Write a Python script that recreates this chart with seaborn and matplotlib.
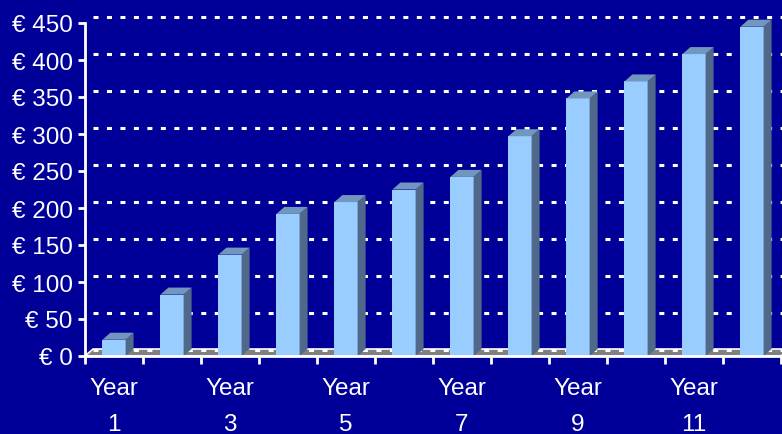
import matplotlib
matplotlib.use("Agg")
import matplotlib.pyplot as plt
import seaborn as sns
import pandas as pd
from matplotlib.patches import Polygon
from matplotlib.transforms import ScaledTranslation
from matplotlib.ticker import FixedLocator

# ---- data ----
years = [str(i) for i in range(1, 13)]
values = [22, 83, 137, 192, 208, 225, 242, 297, 348, 371, 408, 445]
y_ticks = [0, 50, 100, 150, 200, 250, 300, 350, 400, 450]
y_tick_labels = [f"€ {v}" for v in y_ticks]
x_label_years = ["1", "3", "5", "7", "9", "11"]

# ---- style ----
BG = "#000099"
FRONT = "#99CCFF"
SIDE = "#50698B"
TOP = "#7297BF"
FLOOR = "#808080"
W = 782
H = 435
DPI = 100

sns.set_theme(style="white")
plt.rcParams["font.family"] = ["Liberation Sans", "DejaVu Sans"]
plt.rcParams["lines.scale_dashes"] = False

fig = plt.figure(figsize=(W / DPI, H / DPI), dpi=DPI, facecolor=BG)
ax_left, ax_right, ax_bottom, ax_top = 85, 781, 357, 24
ax = fig.add_axes([ax_left / W, (H - ax_bottom) / H,
                   (ax_right - ax_left) / W, (ax_bottom - ax_top) / H])
ax.set_facecolor(BG)

df = pd.DataFrame({"year": years, "value": values})
sns.barplot(data=df, x="year", y="value", color=FRONT, width=0.4,
            saturation=1, ax=ax, linewidth=0, zorder=3)
ax.set_xlim(-0.5, len(years) - 0.5)
ax.set_ylim(0, 450)

# pixel -> data conversions
px_per_cat = (ax_right - ax_left) / len(years)
px_per_val = (ax_bottom - ax_top) / 450.0
dx = 8 / px_per_cat
dy = 7 / px_per_val

# floor
x0, x1 = ax.get_xlim()
floor = Polygon([(x0, 0), (x1, 0), (x1 + dx, dy), (x0 + dx, dy)],
                closed=True, facecolor=FLOOR, edgecolor="white",
                linewidth=1.2, clip_on=False, zorder=1)
ax.add_patch(floor)

# 3D faces for each bar, derived from the bar patches
for p in list(ax.patches):
    if p is floor:
        continue
    bx, bw, bh = p.get_x(), p.get_width(), p.get_height()
    if bh <= 0:
        continue
    side = Polygon([(bx + bw, 0), (bx + bw + dx, dy), (bx + bw + dx, bh + dy), (bx + bw, bh)],
                   closed=True, facecolor=SIDE, edgecolor="none", clip_on=False, zorder=3)
    top = Polygon([(bx, bh), (bx + bw, bh), (bx + bw + dx, bh + dy), (bx + dx, bh + dy)],
                  closed=True, facecolor=TOP, edgecolor="none", clip_on=False, zorder=3)
    ax.add_patch(side)
    ax.add_patch(top)

# gridlines on the back wall (offset in pixels)
shift = ScaledTranslation(8 / DPI, 6 / DPI, fig.dpi_scale_trans)
for v in y_ticks:
    ln = ax.axhline(v, color="white", linewidth=2.2, linestyle=(0, (3.6, 6.1)),
                    zorder=2, clip_on=False)
    ln.set_transform(ln.get_transform() + shift)

# axes styling
for s in ["top", "right"]:
    ax.spines[s].set_visible(False)
for s in ["left", "bottom"]:
    ax.spines[s].set_color("white")
    ax.spines[s].set_linewidth(2)
    ax.spines[s].set_zorder(4)

ax.set_yticks(y_ticks)
ax.set_yticklabels(y_tick_labels)
ax.tick_params(axis="y", colors="white", labelsize=17.5, length=5, width=2,
               direction="out", pad=4, left=True)

major_pos = [years.index(y) for y in x_label_years]
ax.set_xticks(major_pos)
ax.set_xticklabels([f"Year\n{y}" for y in x_label_years], linespacing=1.85)
ax.xaxis.set_minor_locator(FixedLocator([i + 0.5 for i in range(-1, len(years))]))
ax.tick_params(axis="x", which="major", colors="white", labelsize=17.5, length=0, pad=15)
ax.tick_params(axis="x", which="minor", color="white", length=6, width=2, bottom=True)
ax.set_xlabel("")
ax.set_ylabel("")

fig.savefig("out.png", dpi=DPI, facecolor=BG)
